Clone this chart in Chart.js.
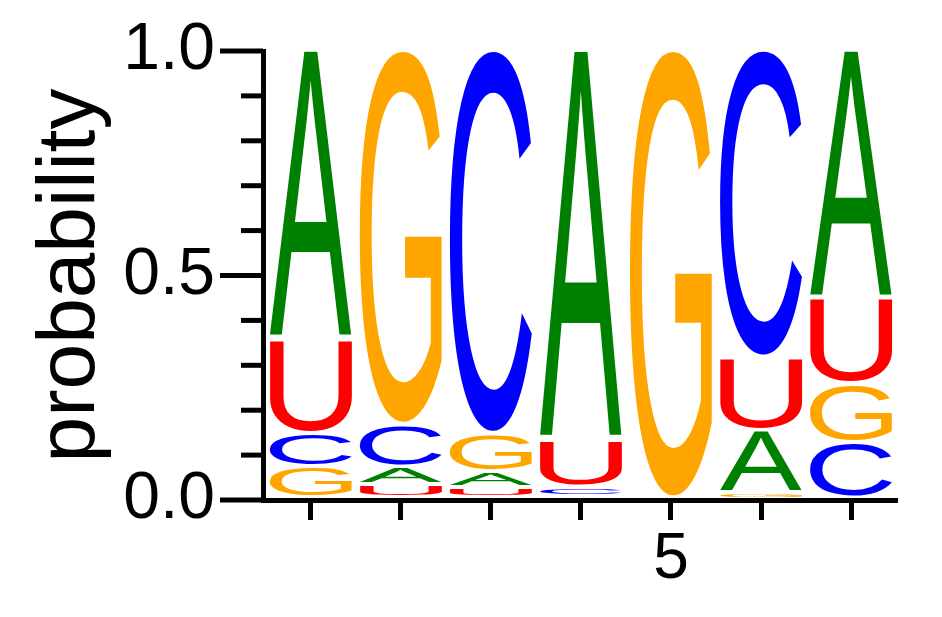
<!DOCTYPE html>
<html>
<head>
<meta charset="utf-8">
<script src="https://cdn.jsdelivr.net/npm/chart.js@4.4.1/dist/chart.umd.min.js"></script>
<style>
    body { margin: 0; background: #fff; }
    #wrap { width: 942px; height: 617px; position: relative; }
</style>
</head>
<body>
<div id="wrap"><canvas id="logoChart"></canvas></div>
<script>
const positions = [1, 2, 3, 4, 5, 6, 7];
const letters = ['A', 'C', 'G', 'U'];
const probA = [0.645, 0.040, 0.035, 0.870, 0.0, 0.140, 0.555];
const probC = [0.075, 0.095, 0.855, 0.020, 0.0, 0.685, 0.125];
const probG = [0.070, 0.835, 0.085, 0.005, 1.0, 0.012, 0.130];
const probU = [0.210, 0.030, 0.025, 0.105, 0.0, 0.163, 0.190];
const yTickLabels = ['0.0', '0.5', '1.0'];
const xTickLabels = ['5'];

const letterColors = { A: '#008000', C: '#0000ff', G: '#ffa500', U: '#ff0000' };
const FONT = '"Liberation Sans", Arial, sans-serif';

// build floating bars: in each column the letters are stacked smallest at the bottom
function buildDatasets() {
    const probs = { A: probA, C: probC, G: probG, U: probU };
    const ranges = { A: [], C: [], G: [], U: [] };
    for (let i = 0; i < positions.length; i++) {
        let order = letters.slice().sort((a, b) => probs[a][i] - probs[b][i]);
        let base = 0;
        order.forEach(l => {
            ranges[l].push({ x: positions[i], y: [base, base + probs[l][i]] });
            base += probs[l][i];
        });
    }
    return letters.map(l => ({
        label: l,
        data: ranges[l],
        backgroundColor: 'rgba(0,0,0,0)',
        borderWidth: 0
    }));
}

function drawLetter(ctx, ch, color, left, top, w, h) {
    ctx.save();
    ctx.font = '200px ' + FONT;
    ctx.textAlign = 'left';
    ctx.textBaseline = 'alphabetic';
    const m = ctx.measureText(ch);
    const gw = m.actualBoundingBoxLeft + m.actualBoundingBoxRight;
    const gh = m.actualBoundingBoxAscent + m.actualBoundingBoxDescent;
    ctx.translate(left, top);
    ctx.scale(w / gw, h / gh);
    ctx.fillStyle = color;
    ctx.fillText(ch, m.actualBoundingBoxLeft, m.actualBoundingBoxAscent);
    ctx.restore();
}

// draws each bar as a stretched letter
const letterPlugin = {
    id: 'letters',
    afterDatasetsDraw(chart) {
        const ctx = chart.ctx;
        chart.data.datasets.forEach((ds, di) => {
            const meta = chart.getDatasetMeta(di);
            meta.data.forEach(bar => {
                const p = bar.getProps(['x', 'y', 'base', 'width'], true);
                const top = Math.min(p.y, p.base);
                const full = Math.max(p.y, p.base) - top;
                const gap = Math.min(4, full * 0.6);
                const h = full - gap;
                if (h < 1) return;
                drawLetter(ctx, ds.label, letterColors[ds.label], p.x - p.width / 2, top, p.width, h);
            });
        });
    }
};

// y ticks: long at 0, 0.5, 1 and short in between
const tickPlugin = {
    id: 'yticks',
    afterDraw(chart) {
        const ys = chart.scales.y;
        const ctx = chart.ctx;
        ctx.save();
        ctx.strokeStyle = '#000';
        ctx.lineWidth = 5;
        ys.ticks.forEach(t => {
            const py = ys.getPixelForValue(t.value);
            const major = Math.abs(t.value * 2 - Math.round(t.value * 2)) < 1e-6;
            const len = major ? 43 : 22;
            ctx.beginPath();
            ctx.moveTo(ys.right - len, py);
            ctx.lineTo(ys.right, py);
            ctx.stroke();
        });
        ctx.restore();
    }
};

const ctx = document.getElementById('logoChart').getContext('2d');
const logoChart = new Chart(ctx, {
    type: 'bar',
    data: { datasets: buildDatasets() },
    options: {
        responsive: true,
        maintainAspectRatio: false,
        animation: false,
        layout: { padding: { left: 0, right: 45, top: 51, bottom: 0 } },
        datasets: {
            bar: { grouped: false, barPercentage: 0.911, categoryPercentage: 1.0 }
        },
        plugins: {
            legend: { display: false },
            tooltip: { enabled: false }
        },
        scales: {
            x: {
                type: 'linear',
                min: 0.47,
                max: 7.51,
                offset: false,
                grid: { offset: false, drawOnChartArea: false, tickLength: 20, tickWidth: 5, color: '#000' },
                border: { display: true, color: '#000', width: 5 },
                ticks: {
                    stepSize: 1,
                    includeBounds: false,
                    autoSkip: false,
                    maxRotation: 0,
                    padding: 2,
                    color: '#000',
                    font: { family: FONT, size: 64 },
                    callback: v => xTickLabels.includes(String(v)) ? String(v) : ''
                },
                afterFit: scale => {
                    scale.height = 117;
                    scale.paddingLeft = 0;
                    scale.paddingRight = 0;
                }
            },
            y: {
                min: 0,
                max: 1,
                grid: { drawOnChartArea: false, drawTicks: false },
                border: { display: true, color: '#000', width: 5 },
                ticks: {
                    stepSize: 0.1,
                    autoSkip: false,
                    padding: 48,
                    color: '#000',
                    font: { family: FONT, size: 66 },
                    callback: v => {
                        const s = Number(v).toFixed(1);
                        return yTickLabels.includes(s) && Math.abs(v * 2 - Math.round(v * 2)) < 1e-6 ? s : '';
                    }
                },
                title: {
                    display: true,
                    text: 'probability',
                    color: '#000',
                    font: { family: FONT, size: 82 },
                    padding: { top: 22, bottom: 0 }
                },
                afterFit: scale => {
                    scale.width = 263;
                    scale.paddingTop = 0;
                    scale.paddingBottom = 0;
                }
            }
        }
    },
    plugins: [letterPlugin, tickPlugin]
});
</script>
</body>
</html>
